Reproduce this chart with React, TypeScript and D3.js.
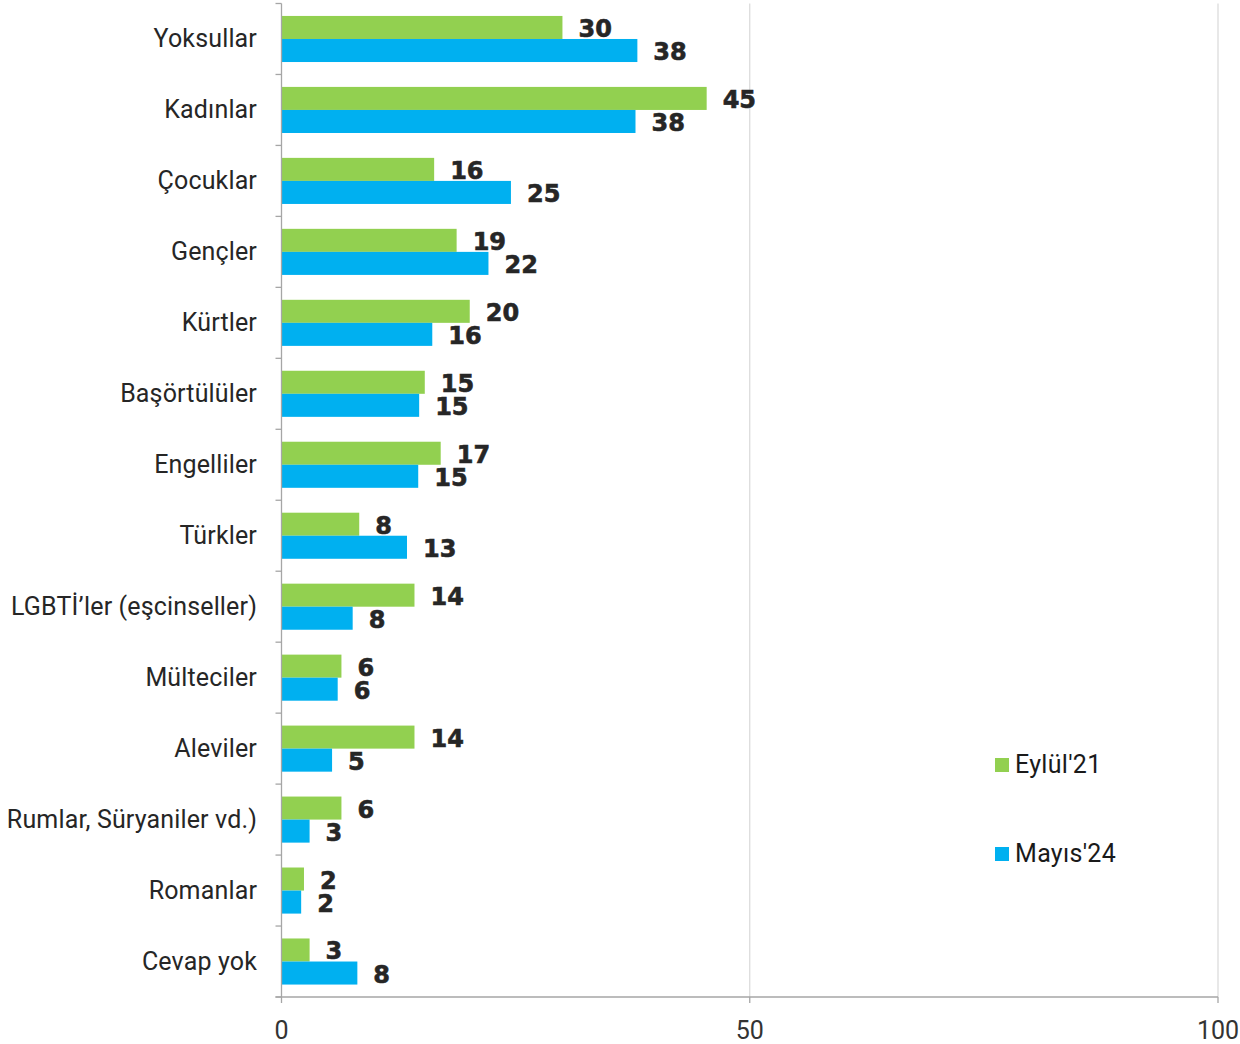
import React from "react";
import * as d3 from "d3";

const categories = [
  "Yoksullar",
  "Kadınlar",
  "Çocuklar",
  "Gençler",
  "Kürtler",
  "Başörtülüler",
  "Engelliler",
  "Türkler",
  "LGBTİ’ler (eşcinseller)",
  "Mülteciler",
  "Aleviler",
  "Rumlar, Süryaniler vd.)",
  "Romanlar",
  "Cevap yok",
];

const seriesNames = ["Eylül'21", "Mayıs'24"];
const seriesColors = ["#92D050", "#00B0F0"];

const eylul21 = [30.0, 45.4, 16.3, 18.7, 20.1, 15.3, 17.0, 8.3, 14.2, 6.4, 14.2, 6.4, 2.4, 3.0];
const mayis24 = [38.0, 37.8, 24.5, 22.1, 16.1, 14.7, 14.6, 13.4, 7.6, 6.0, 5.4, 3.0, 2.1, 8.1];

const xTicks = [0, 50, 100];

const W = 1240;
const H = 1044;
const labelFont = "Roboto, 'Liberation Sans', Arial, sans-serif";
const valueFont = "'DejaVu Sans', Verdana, sans-serif";

export default function App() {
  const x = d3.scaleLinear().domain([0, 100]).range([281.5, 1218]);
  const y = d3.scaleBand<string>().domain(categories).range([3.5, 997]).paddingInner(0).paddingOuter(0);
  const inner = d3
    .scaleBand<string>()
    .domain(seriesNames)
    .range([0, y.bandwidth()])
    .paddingInner(0)
    .paddingOuter(0.54);
  const fmt = d3.format(".0f");
  const series = [eylul21, mayis24];
  const x0 = x(0);
  const yTop = y.range()[0];
  const yBot = y.range()[1];
  const boundaries = [...categories.map((c) => y(c) as number), yBot];

  return (
    <svg
      width={W}
      height={H}
      style={{ position: "absolute", left: 0, top: 0, background: "#fff" }}
    >
      {/* gridlines */}
      {xTicks
        .filter((t) => t !== 0)
        .map((t) => (
          <line key={"g" + t} x1={x(t)} x2={x(t)} y1={yTop} y2={yBot} stroke="#d9d9d9" strokeWidth={1.2} />
        ))}

      {/* bars */}
      {categories.map((c, i) =>
        series.map((s, j) => {
          const by = (y(c) as number) + (inner(seriesNames[j]) as number);
          return (
            <rect
              key={c + j}
              x={x0}
              y={by}
              width={x(s[i]) - x0}
              height={inner.bandwidth()}
              fill={seriesColors[j]}
            />
          );
        })
      )}

      {/* value labels */}
      {categories.map((c, i) =>
        series.map((s, j) => {
          const by = (y(c) as number) + (inner(seriesNames[j]) as number);
          return (
            <text
              key={"v" + c + j}
              x={x(s[i]) + 16}
              y={by + inner.bandwidth() / 2 + 9.5}
              fontFamily={valueFont}
              fontWeight={700}
              fontSize={24}
              fill="#262626"
              stroke="#262626"
              strokeWidth={0.6}
            >
              {fmt(s[i])}
            </text>
          );
        })
      )}

      {/* left axis */}
      <line x1={x0} x2={x0} y1={yTop} y2={yBot} stroke="#a6a6a6" strokeWidth={1.3} />
      {boundaries.map((b, i) => (
        <line key={"t" + i} x1={x0 - 6} x2={x0} y1={b} y2={b} stroke="#a6a6a6" strokeWidth={1.3} />
      ))}

      {/* bottom axis */}
      <line x1={x0 - 6} x2={x(100)} y1={yBot} y2={yBot} stroke="#a6a6a6" strokeWidth={1.3} />
      {xTicks.map((t) => (
        <g key={"xt" + t}>
          <line x1={x(t)} x2={x(t)} y1={yBot} y2={yBot + 6} stroke="#a6a6a6" strokeWidth={1.3} />
          <text
            x={x(t)}
            y={1039}
            textAnchor="middle"
            fontFamily={labelFont}
            fontSize={25}
            fill="#333"
          >
            {t}
          </text>
        </g>
      ))}

      {/* category labels */}
      {categories.map((c) => (
        <text
          key={"c" + c}
          x={257}
          y={(y(c) as number) + y.bandwidth() / 2 + 8}
          textAnchor="end"
          fontFamily={labelFont}
          fontSize={25}
          letterSpacing={0.15}
          fill="#262626"
        >
          {c}
        </text>
      ))}

      {/* legend */}
      {seriesNames.map((n, j) => {
        const ly = 758 + j * 89;
        return (
          <g key={"l" + n}>
            <rect x={995} y={ly} width={14} height={14} fill={seriesColors[j]} />
            <text
              x={1015}
              y={ly + 15}
              fontFamily={labelFont}
              fontSize={25}
              letterSpacing={0.3}
              fill="#1a1a1a"
            >
              {n}
            </text>
          </g>
        );
      })}
    </svg>
  );
}
